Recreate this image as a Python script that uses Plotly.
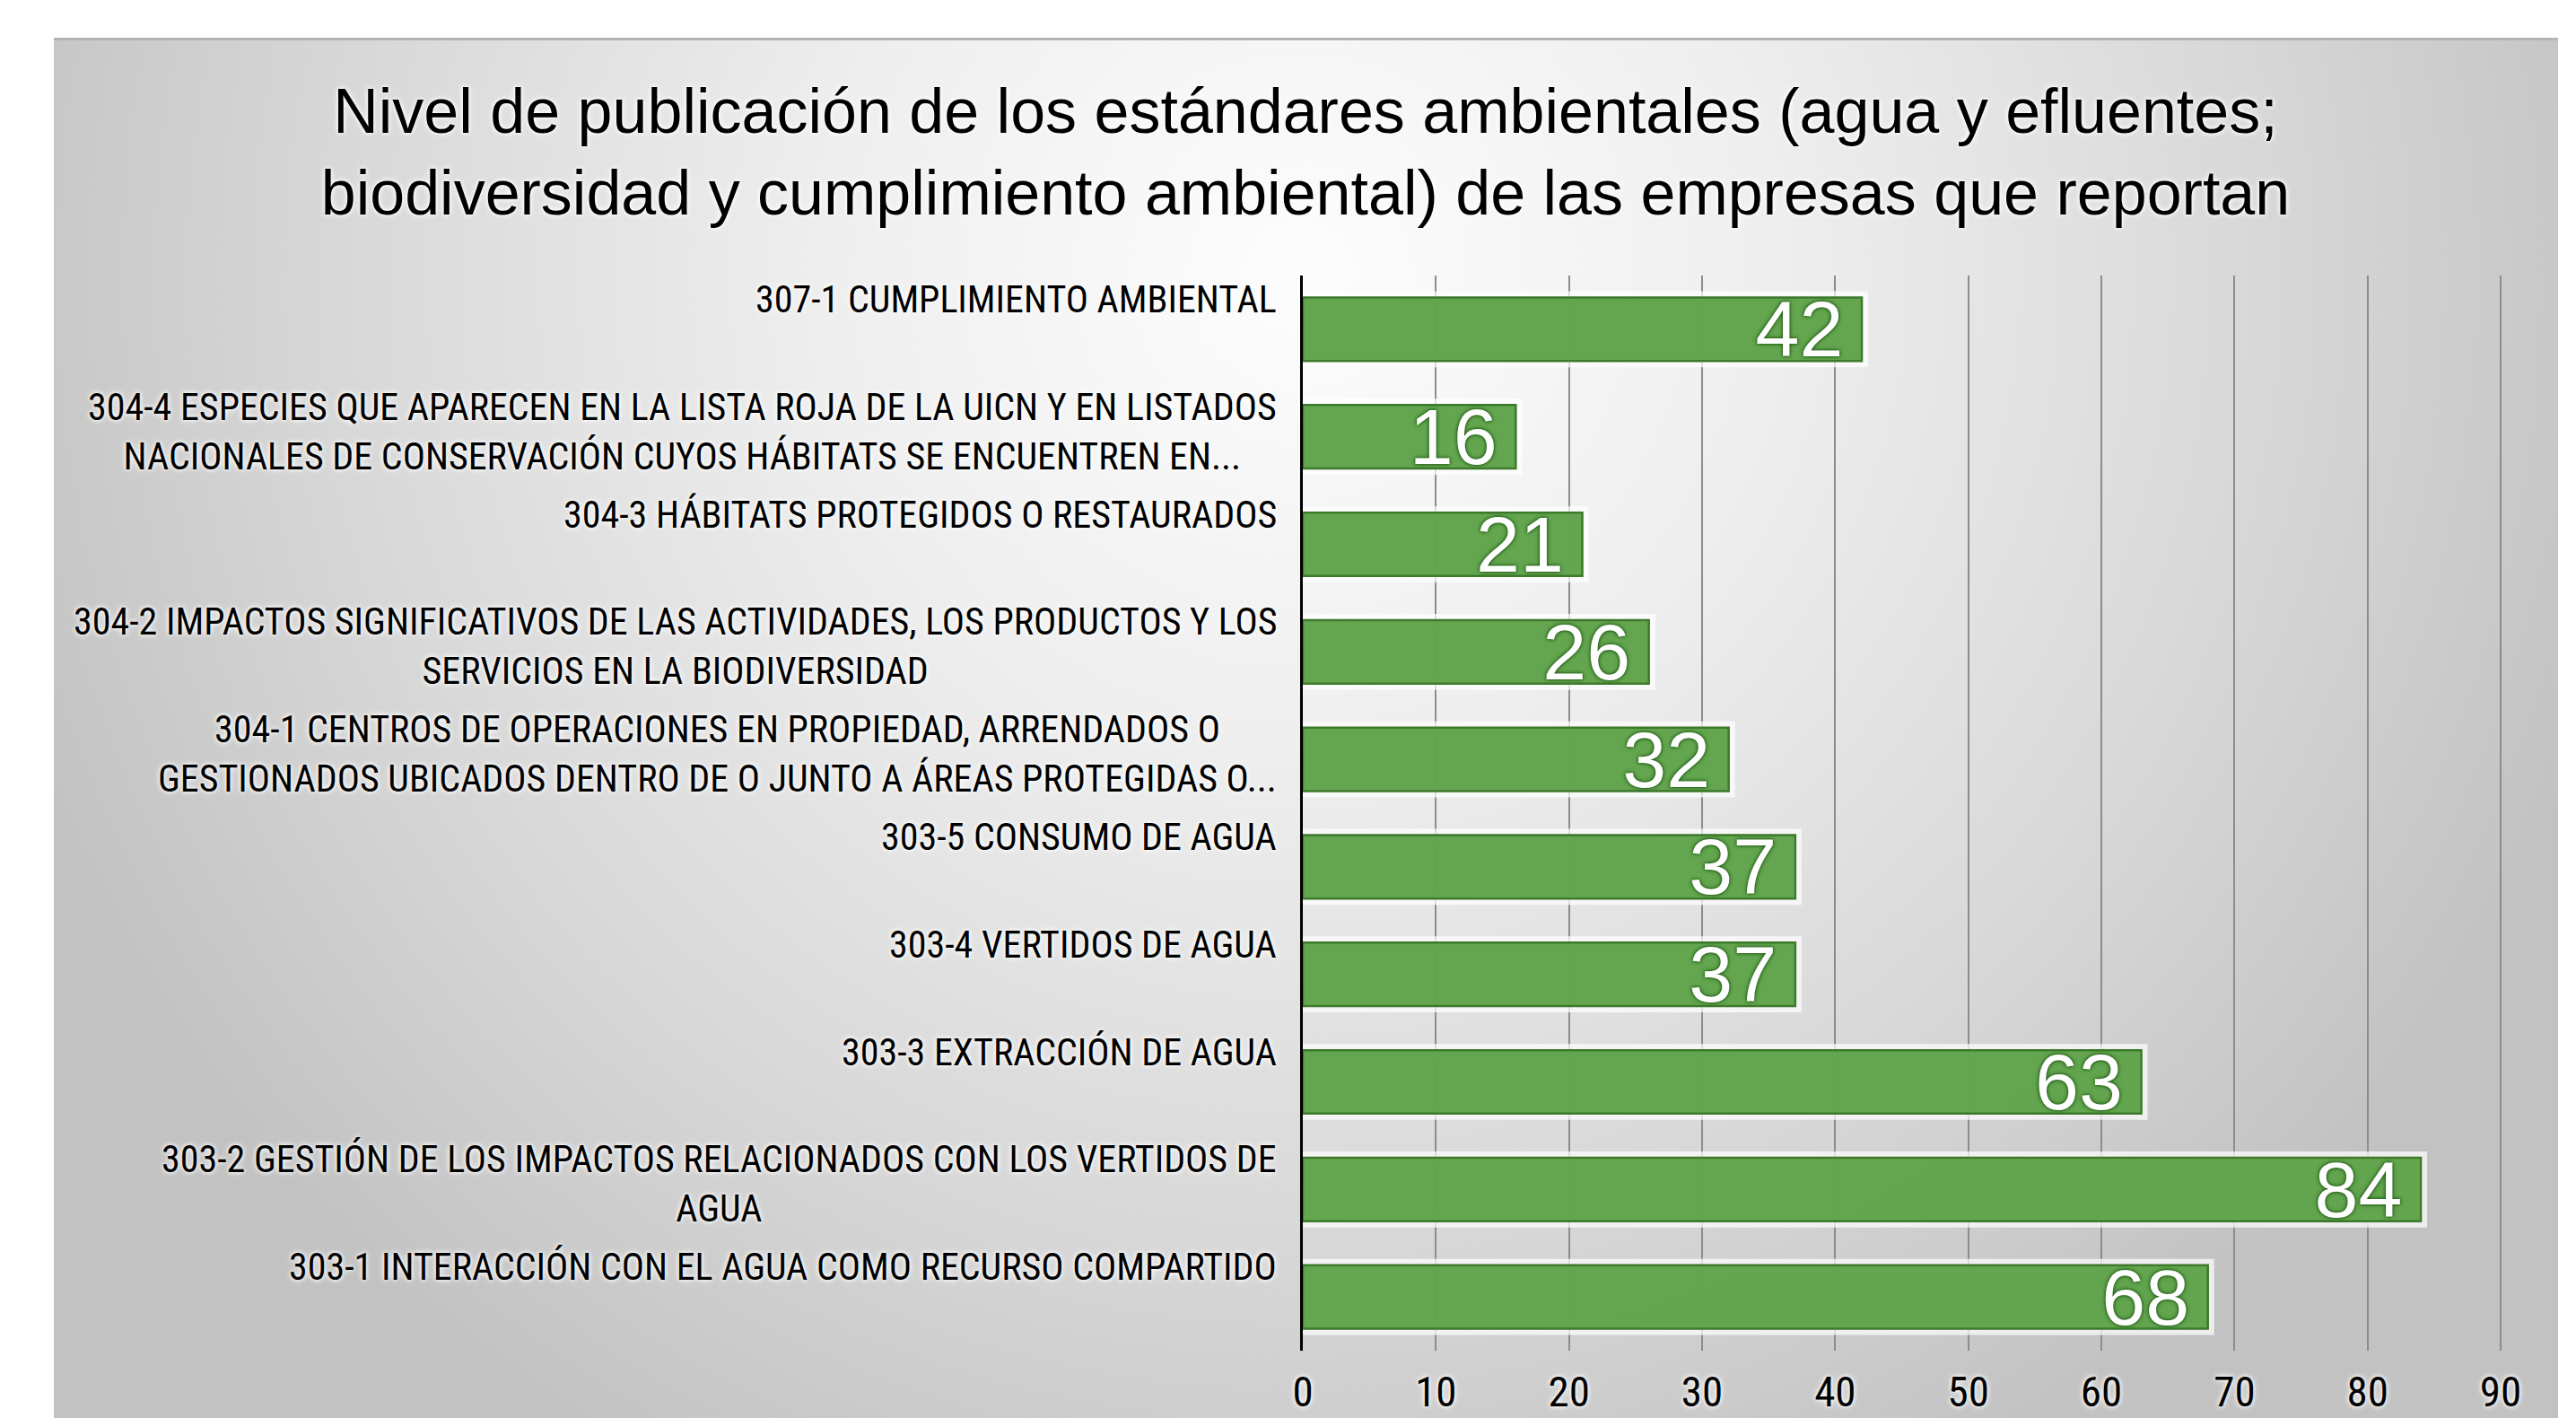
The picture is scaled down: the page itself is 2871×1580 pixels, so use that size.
import base64
import plotly.graph_objects as go

# Datos (de arriba a abajo)
codes = ["307-1", "304-4", "304-3", "304-2", "304-1",
         "303-5", "303-4", "303-3", "303-2", "303-1"]
labels = [
    "307-1 CUMPLIMIENTO AMBIENTAL",
    "304-4 ESPECIES QUE APARECEN EN LA LISTA ROJA DE LA UICN Y EN LISTADOS<br>"
    "NACIONALES DE CONSERVACIÓN CUYOS HÁBITATS SE ENCUENTREN EN...",
    "304-3 HÁBITATS PROTEGIDOS O RESTAURADOS",
    "304-2 IMPACTOS SIGNIFICATIVOS DE LAS ACTIVIDADES, LOS PRODUCTOS Y LOS<br>"
    "SERVICIOS EN LA BIODIVERSIDAD",
    "304-1 CENTROS DE OPERACIONES EN PROPIEDAD, ARRENDADOS O<br>"
    "GESTIONADOS UBICADOS DENTRO DE O JUNTO A ÁREAS PROTEGIDAS O...",
    "303-5 CONSUMO DE AGUA",
    "303-4 VERTIDOS DE AGUA",
    "303-3 EXTRACCIÓN DE AGUA",
    "303-2 GESTIÓN DE LOS IMPACTOS RELACIONADOS CON LOS VERTIDOS DE<br>AGUA",
    "303-1 INTERACCIÓN CON EL AGUA COMO RECURSO COMPARTIDO",
]
values = [42, 16, 21, 26, 32, 37, 37, 63, 84, 68]

TITLE = ("Nivel de publicación de los estándares ambientales (agua y efluentes;<br>"
         "biodiversidad y cumplimiento ambiental) de las empresas que reportan")

W, H = 2871, 1580
# the page body adds an 8px offset, positions below account for it
L, R, T, B = 1444, 86, 299, 83
pw, ph = W - L - R, H - T - B

NARROW = "Liberation Sans Narrow, Roboto Condensed, Arial Narrow, Liberation Sans"
GLOW = "0px 0px 4px #ffffff, 0px 0px 7px #ffffff"

# fondo del panel con degradado radial (como en Excel)
svg = f'''<svg xmlns="http://www.w3.org/2000/svg" width="{W}" height="{H}" viewBox="0 0 {W} {H}" preserveAspectRatio="none">
<defs><radialGradient id="g" gradientUnits="userSpaceOnUse" cx="1440" cy="300" r="1520">
<stop offset="0" stop-color="#fdfdfd"/><stop offset="0.35" stop-color="#eeeeee"/>
<stop offset="0.7" stop-color="#d8d8d8"/><stop offset="1" stop-color="#c2c2c2"/></radialGradient></defs>
<rect width="{W}" height="{H}" fill="#ffffff"/>
<rect x="52" y="34" width="2791" height="1600" fill="url(#g)"/>
<rect x="52" y="34" width="2791" height="3" fill="#b4b4b4"/>
</svg>'''
bg_src = "data:image/svg+xml;base64," + base64.b64encode(svg.encode("utf-8")).decode("ascii")

fig = go.Figure()

# halo blanco alrededor de las barras
fig.add_trace(go.Bar(
    y=codes, x=values, orientation='h', width=0.59,
    marker=dict(color='rgba(255,255,255,0.75)', line=dict(color='rgba(255,255,255,0.7)', width=14)),
    hoverinfo='skip', showlegend=False
))

fig.add_trace(go.Bar(
    y=codes, x=values, orientation='h', width=0.59,
    marker=dict(color='rgba(87,158,64,0.92)', line=dict(color='#3d7a2c', width=2.5)),
    text=[f"{v}\u2009" for v in values],
    textposition='inside', insidetextanchor='end', textangle=0,
    constraintext='none',
    textfont=dict(family="Liberation Sans", size=88, color='white',
                  shadow="0px 0px 5px #1f5a14, 0px 0px 3px #1f5a14"),
    hovertemplate='%{y}: %{x}<extra></extra>',
    showlegend=False
))

annotations = []
for code, lab in zip(codes, labels):
    annotations.append(dict(
        x=0, xref='paper', xanchor='right', xshift=-27,
        y=code, yref='y', yanchor='top', yshift=60,
        text=lab, align='center', showarrow=False,
        font=dict(family=NARROW, size=42, color='black', shadow=GLOW)
    ))

fig.update_layout(
    width=W, height=H,
    margin=dict(l=L, r=R, t=T, b=B, autoexpand=False),
    paper_bgcolor='rgba(0,0,0,0)',
    plot_bgcolor='rgba(0,0,0,0)',
    barmode='overlay',
    title=dict(text=TITLE, x=0.504, xref='container', xanchor='center',
               y=1 - 140 / H, yref='container', yanchor='middle',
               font=dict(family="Liberation Sans", size=70, color='black', shadow=GLOW)),
    xaxis=dict(range=[0, 90.4], tick0=0, dtick=10, showgrid=True, automargin=False,
               gridcolor='#8c8c8c', gridwidth=1.5, zeroline=False, showline=False,
               tickfont=dict(family=NARROW, size=47, color='black', shadow=GLOW),
               ticklabelstandoff=14),
    yaxis=dict(categoryorder='array', categoryarray=codes, range=[9.5, -0.5],
               showticklabels=False, showgrid=False, zeroline=False, automargin=False,
               showline=True, linecolor='black', linewidth=3),
    annotations=annotations,
    images=[dict(source=bg_src, xref='paper', yref='paper',
                 x=-L / pw, y=1 + T / ph, sizex=W / pw, sizey=H / ph,
                 xanchor='left', yanchor='top', sizing='stretch', layer='below')],
)

fig.write_html("out.html")
